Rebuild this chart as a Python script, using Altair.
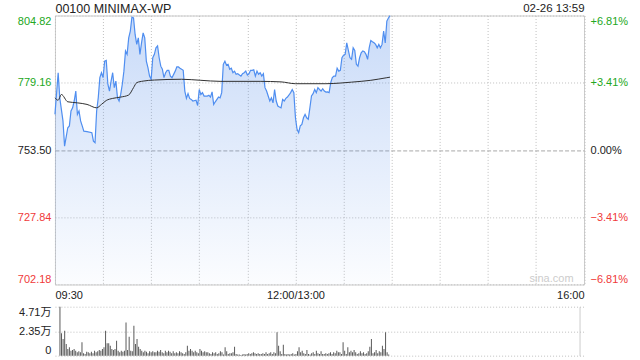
import altair as alt
import pandas as pd

# ---------------- data ----------------
title_left = "00100 MINIMAX-WP"
title_right = "02-26 13:59"
watermark = "sina.com"
prev_close = 753.50
price_ticks = [702.18, 727.84, 753.50, 779.16, 804.82]
vol_ticks = [0, 2.35, 4.71]
time_ticks = [0, 30, 60, 90, 120, 150, 180, 210, 240, 270, 300, 330]
time_label_at = [0, 150, 330]
time_label_text = ["09:30", "12:00/13:00", "16:00"]

price_min = [0, 2, 3, 5, 6, 8, 9, 10, 11, 12, 13, 14, 15, 16, 17, 18, 20, 23, 24, 25,
             26, 27, 28, 29, 30, 31, 32, 33, 34, 35, 36, 37, 38, 39, 40, 41, 42, 43, 44, 45,
             46, 47, 48, 49, 50, 51, 52, 53, 54, 55, 56, 57, 58, 59, 60, 61, 62, 63, 64, 65,
             66, 67, 68, 69, 70, 71, 72, 73, 75, 76, 77, 78, 79, 80, 81, 82, 83, 84, 85, 86,
             88, 89, 90, 91, 92, 93, 95, 96, 97, 98, 99, 100, 102, 103, 104, 105, 106, 107, 108, 109,
             110, 111, 112, 113, 114, 116, 117, 118, 119, 120, 121, 122, 123, 124, 125, 126, 127, 128, 129, 130,
             131, 132, 133, 134, 135, 136, 137, 138, 139, 140, 141, 142, 143, 144, 145, 146, 147, 148, 149, 150,
             151, 152, 153, 154, 155, 156, 157, 158, 159, 160, 161, 162, 163, 164, 165, 166, 167, 168, 169, 170,
             171, 172, 173, 174, 175, 176, 177, 178, 179, 180, 181, 182, 183, 184, 185, 186, 187, 188, 189, 190,
             191, 192, 193, 194, 195, 196, 197, 198, 199, 200, 201, 202, 203, 204, 205, 206, 207, 208, 209]
price_val = [767.1, 783.0, 773.4, 764.6, 755.0, 762.0, 762.7, 768.4, 769.6, 772.2, 776.0, 767.1, 768.4, 764.6, 762.7, 760.7, 760.5, 760.1, 756.9, 756.3,
             768.4, 773.4, 781.1, 783.0, 781.1, 787.4, 787.7, 778.6, 776.0, 779.8, 783.0, 777.3, 779.8, 773.4, 772.2, 774.7, 778.6, 783.6, 791.3, 790.0,
             796.3, 798.9, 804.2, 803.9, 797.6, 793.8, 796.3, 790.0, 794.4, 798.2, 796.3, 787.4, 784.9, 781.7, 780.5, 788.7, 790.0, 792.5, 793.2, 788.7,
             785.5, 784.3, 781.1, 783.0, 783.9, 783.9, 781.7, 781.1, 783.6, 785.2, 785.2, 784.7, 784.3, 783.9, 776.0, 773.2, 775.0, 773.2, 772.8, 772.2,
             772.5, 770.5, 776.6, 774.7, 775.4, 774.1, 774.1, 774.4, 773.7, 775.7, 770.9, 771.9, 773.7, 773.4, 775.4, 786.2, 787.4, 785.9, 786.2, 784.3,
             784.7, 783.0, 783.6, 782.4, 782.6, 781.7, 782.6, 783.0, 783.6, 782.1, 782.6, 783.9, 783.9, 784.1, 781.7, 783.6, 782.4, 783.0, 781.7, 782.6,
             777.3, 776.0, 774.1, 772.2, 773.4, 771.5, 776.6, 772.2, 770.3, 769.9, 769.6, 772.8, 772.2, 773.2, 773.7, 774.5, 775.4, 776.6, 775.4, 765.8,
             761.4, 760.1, 762.7, 763.3, 765.8, 767.1, 765.8, 765.2, 769.6, 774.1, 775.0, 776.6, 775.4, 777.3, 776.6, 776.0, 776.9, 776.0, 775.6, 775.7,
             775.4, 779.2, 781.1, 781.7, 781.7, 784.7, 783.6, 783.9, 788.7, 789.7, 790.0, 794.4, 791.5, 788.7, 788.1, 792.5, 791.5, 786.2, 785.5, 788.7,
             790.6, 791.3, 791.0, 790.0, 788.1, 792.5, 795.3, 794.8, 794.4, 793.8, 792.5, 793.8, 792.5, 793.8, 798.9, 794.4, 802.7, 803.9, 804.8]

avg_min = [0, 2, 4, 8, 14, 20, 26, 29, 32, 36, 41, 46, 49, 51, 55, 62, 79, 91, 103, 128, 141, 150, 169, 178, 185, 197, 207, 209]
avg_val = [773.4, 772.5, 774.7, 771.9, 771.5, 770.9, 769.6, 770.9, 772.4, 773.2, 773.7, 774.5, 777.3, 779.2, 779.8, 780.2, 780.5, 780.1, 779.7, 779.7,
           779.5, 778.8, 778.8, 779.05, 779.4, 780.1, 781.1, 781.3]

# volume per minute, in 万 shares
volume = [4.71, 2.15, 1.60, 2.40, 1.12, 0.64, 0.80, 0.48, 0.54, 0.64,
          0.48, 0.32, 0.42, 0.32, 1.28, 0.22, 0.16, 0.38, 0.32, 0.22,
          0.38, 0.22, 0.48, 0.32, 0.42, 0.54, 0.48, 0.64, 0.80, 2.40,
          1.19, 1.19, 0.96, 0.64, 0.54, 0.64, 1.44, 0.48, 0.32, 0.48,
          0.38, 0.48, 3.20, 0.54, 1.83, 0.48, 0.42, 2.88, 1.12, 1.60,
          0.86, 0.64, 0.48, 0.32, 0.48, 0.38, 0.22, 0.42, 0.32, 0.42,
          0.32, 0.32, 0.48, 0.38, 0.54, 0.32, 0.22, 0.48, 0.32, 0.48,
          0.38, 0.22, 0.42, 0.22, 0.32, 0.22, 0.42, 0.32, 0.22, 0.16,
          0.32, 0.96, 0.48, 0.64, 0.48, 0.32, 0.48, 0.32, 0.22, 0.64,
          0.48, 0.32, 0.42, 0.32, 0.32, 0.22, 0.16, 0.32, 0.22, 0.32,
          0.16, 0.22, 0.42,
          0.32, 0.10, 0.80, 0.42, 0.16, 0.22, 0.22, 0.32, 0.86, 0.16,
          0.10, 0.10, 0.06, 0.10, 0.16, 0.10, 0.16, 0.22, 0.16, 0.22,
          0.32, 0.22, 0.16, 0.22, 0.16, 0.16, 0.22, 0.16, 0.32, 0.16,
          0.22, 0.32, 0.16, 0.32, 0.22, 2.24, 0.96, 0.42, 0.16, 1.06,
          0.16, 0.10, 0.16, 0.10, 0.16, 0.22, 0.10, 0.16, 0.42, 0.80,
          0.32, 0.48, 0.22, 0.16, 0.54, 0.16, 0.10, 0.22, 0.32, 0.16,
          0.48, 0.22, 0.16, 0.42, 0.16, 0.16, 0.22, 0.16, 0.22, 0.32,
          0.16, 0.32, 0.22, 0.48, 0.32, 0.32, 0.16, 1.28, 0.48, 0.16,
          0.80, 0.32, 0.48, 0.32, 0.54, 0.32, 0.16, 0.22, 0.42, 0.22,
          0.32, 0.16, 0.22, 0.42, 0.86, 1.60, 0.22, 0.32, 0.54, 0.22,
          0.42, 0.32, 0.96, 0.64, 2.24, 0.32, 0.10]

# ---------------- frames ----------------
price_df = pd.DataFrame({"t": price_min, "price": price_val, "base": price_ticks[0]})
avg_df = pd.DataFrame({"t": avg_min, "price": avg_val})
pct_ticks = [round((p / prev_close - 1) * 100, 4) for p in price_ticks]
pct_df = pd.DataFrame({"pct": pct_ticks})
vol_df = pd.DataFrame({"t": list(range(len(volume))), "vol": volume})

# ---------------- style ----------------
W, H, VH = 529.5, 269.2, 49
FONT = "Liberation Sans, Arial, Noto Sans CJK SC, sans-serif"
GREEN, RED, DARK = "#22a722", "#f03a3a", "#222222"
GRID = "#c0c0c0"

color_cond = {"condition": [{"test": f"datum.value > {prev_close} + 0.001", "value": GREEN},
                            {"test": f"datum.value < {prev_close} - 0.001", "value": RED}],
              "value": DARK}
pct_color_cond = {"condition": [{"test": "datum.value > 0.001", "value": GREEN},
                                {"test": "datum.value < -0.001", "value": RED}],
                  "value": DARK}

label_expr = " : ".join(
    [f"datum.value == {v} ? '{s}'" for v, s in zip(time_label_at, time_label_text)]) + " : ''"

x_scale = alt.Scale(domain=[time_ticks[0], time_ticks[-1]], nice=False, zero=False)
x_enc = alt.X("t:Q", scale=x_scale,
              axis=alt.Axis(values=time_ticks, labelExpr=label_expr, labelFlush=True,
                            grid=True, gridColor=GRID, gridDash=[1, 2], gridWidth=1,
                            domain=False, ticks=False, labelPadding=5, labelFontSize=11,
                            labelColor=DARK, labelFont=FONT,
                            title=watermark, titleX=W - 11, titleY=-6, titleAlign="right",
                            titleBaseline="middle", titleColor="#cccccc", titleFontSize=11,
                            titleFontWeight="normal", titleFont=FONT))

y_scale = alt.Scale(domain=[price_ticks[0], price_ticks[-1]], nice=False, zero=False)
y_enc = alt.Y("price:Q", scale=y_scale,
              axis=alt.Axis(values=price_ticks, format=".2f", labelFlush=True,
                            labelColor=color_cond, labelFontSize=11, labelFont=FONT,
                            labelPadding=4, domain=False, ticks=False,
                            grid=True, gridWidth=1,
                            gridColor={"condition": {"test": f"datum.value == {prev_close}", "value": "#a8a8a8"}, "value": GRID},
                            gridDash={"condition": {"test": f"datum.value == {prev_close}", "value": [4, 2]}, "value": [1, 2]},
                            minExtent=49.5, maxExtent=49.5,
                            title=title_left, titleAngle=0, titleX=0, titleY=-7,
                            titleAlign="left", titleBaseline="middle", titleFontSize=12.5,
                            titleFontWeight="normal", titleColor=DARK, titleFont=FONT))

# translucent fill so the grid shows through, as in the reference
fill = alt.Gradient(gradient="linear",
                    stops=[alt.GradientStop(color="rgba(74,134,232,0.30)", offset=0),
                           alt.GradientStop(color="rgba(74,134,232,0.02)", offset=1)],
                    x1=0, x2=0, y1=0, y2=1)

area = alt.Chart(price_df).mark_area(color=fill).encode(
    x=x_enc, y=y_enc, y2="base:Q")
line = alt.Chart(price_df).mark_line(color="#4f8ef0", strokeWidth=1.2).encode(x=x_enc, y=y_enc)
avg = alt.Chart(avg_df).mark_line(color="#303030", strokeWidth=1, interpolate="monotone").encode(x=x_enc, y=y_enc)

pct_layer = alt.Chart(pct_df).mark_point(opacity=0).encode(
    y=alt.Y("pct:Q",
            scale=alt.Scale(domain=[pct_ticks[0], pct_ticks[-1]], nice=False, zero=False),
            axis=alt.Axis(orient="right", values=pct_ticks,
                          labelExpr="(datum.value > 0.001 ? '+' : '') + format(datum.value, '.2f') + '%'",
                          labelFlush=True, labelColor=pct_color_cond, labelFontSize=11,
                          labelFont=FONT, labelPadding=6, domain=False, ticks=False, grid=False,
                          minExtent=50, maxExtent=50,
                          title=title_right, titleAngle=0, titleX=0, titleY=-7,
                          titleAlign="right", titleBaseline="middle", titleFontSize=11.5,
                          titleFontWeight="normal", titleColor=DARK, titleFont=FONT)))

price_panel = alt.layer(alt.layer(area, line, avg), pct_layer).resolve_scale(
    y="independent").properties(width=W, height=H,
                                view=alt.ViewBackground(stroke="#cccccc", strokeWidth=1))

vol_panel = alt.Chart(vol_df).mark_bar(size=1, color="#5a5a5a").encode(
    x=alt.X("t:Q", scale=x_scale,
            axis=alt.Axis(values=[time_ticks[-1]], labels=False, ticks=False, domain=False,
                          grid=True, gridColor="#cccccc", gridDash=[], title=None)),
    y=alt.Y("vol:Q", scale=alt.Scale(domain=[vol_ticks[0], vol_ticks[-1]], nice=False, zero=True),
            axis=alt.Axis(values=vol_ticks,
                          labelExpr="datum.value == 0 ? '0' : format(datum.value, '.2f') + '万'",
                          labelFlush=True, labelColor=DARK, labelFontSize=11, labelFont=FONT,
                          labelPadding=4, domain=False, ticks=False, grid=True,
                          gridColor=GRID, gridDash=[1, 2], minExtent=49.5, maxExtent=49.5,
                          title=None))
).properties(width=W, height=VH, view=alt.ViewBackground(stroke=None))

chart = alt.vconcat(price_panel, vol_panel, spacing=21.4, bounds="flush").properties(
    padding={"left": 5, "right": 5, "top": 1.4, "bottom": 5}
).configure(background="white")

chart.save("out.html", embed_options={"renderer": "svg", "actions": False})
